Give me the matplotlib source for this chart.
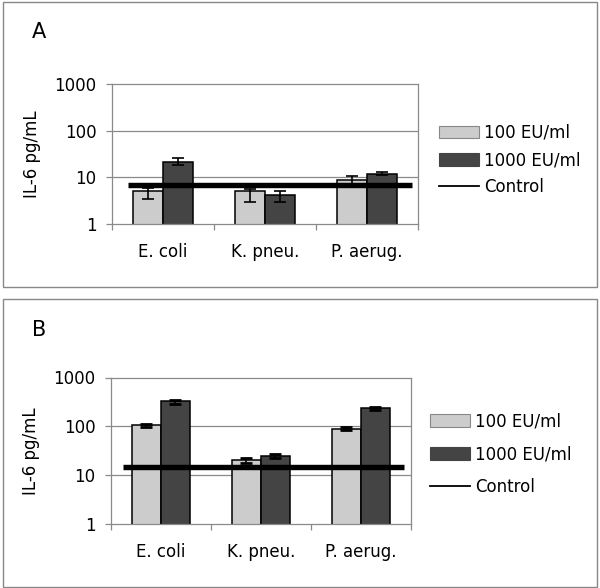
import matplotlib
matplotlib.use("Agg")
import matplotlib.pyplot as plt
from matplotlib.lines import Line2D
from matplotlib.patches import Rectangle, Patch
import numpy as np

categories = ["E. coli", "K. pneu.", "P. aerug."]
series_names = ["100 EU/ml", "1000 EU/ml", "Control"]
ytick_vals = [1, 10, 100, 1000]
ytick_labels = ["1", "10", "100", "1000"]

# Panel A
a_low = [5.1, 5.1, 8.8]
a_low_lo = [3.5, 3.0, 7.0]
a_low_hi = [5.9, 5.6, 10.9]
a_high = [21.8, 4.2, 11.8]
a_high_lo = [18.6, 3.0, 11.3]
a_high_hi = [26.3, 5.1, 12.8]
a_control = 7.0

# Panel B
b_low = [106, 20.1, 89]
b_low_lo = [99, 17.9, 83]
b_low_hi = [114, 22.1, 96]
b_high = [323, 24.6, 239]
b_high_lo = [288, 22.3, 217]
b_high_hi = [349, 26.6, 254]
b_control = 14.9

LIGHT = "#cccccc"
DARK = "#444444"
GRID = "#8a8a8a"
FS = 12

plt.rcParams["font.family"] = ["DejaVu Sans"]

fig = plt.figure(figsize=(6.0, 5.88), dpi=100)

# panel frames
fig.patches.append(Rectangle((3/600, 1-287/588), 594/600, 285/588, transform=fig.transFigure,
                             fill=False, edgecolor="#888888", lw=1.0))
fig.patches.append(Rectangle((3/600, 1-587/588), 594/600, 288/588, transform=fig.transFigure,
                             fill=False, edgecolor="#888888", lw=1.0))


def panel(rect, low, low_lo, low_hi, high, high_lo, high_hi, ctrl, cx, letter, letter_xy,
          leg_xy, labelspacing, capthick, ylab_x):
    ax = fig.add_axes(rect)
    x = np.arange(len(categories))
    w = 0.29
    ax.set_yscale("log")
    ax.set_ylim(1, 1000)
    ax.set_xlim(-0.5, 2.5)
    for v in [10, 100]:
        ax.axhline(v, color=GRID, lw=0.9, zorder=0)
    ax.bar(x - w/2, low, w, color=LIGHT, edgecolor="black", lw=1.1, zorder=2)
    ax.bar(x + w/2, high, w, color=DARK, edgecolor="black", lw=1.1, zorder=2)
    lo = np.array(low); hi_err = np.array(low_hi) - lo; lo_err = lo - np.array(low_lo)
    ax.errorbar(x - w/2, lo, yerr=[lo_err, hi_err], fmt="none", ecolor="black",
                elinewidth=1.2, capsize=4.0, capthick=capthick, zorder=3)
    hv = np.array(high); hi_err = np.array(high_hi) - hv; lo_err = hv - np.array(high_lo)
    ax.errorbar(x + w/2, hv, yerr=[lo_err, hi_err], fmt="none", ecolor="black",
                elinewidth=1.2, capsize=4.0, capthick=capthick, zorder=3)
    ax.axhline(ctrl, xmin=cx[0], xmax=cx[1], color="black", lw=3.9, zorder=4,
               solid_capstyle="butt")
    for s in ax.spines.values():
        s.set_color(GRID)
        s.set_linewidth(0.9)
    ax.set_yticks(ytick_vals)
    ax.set_yticklabels(ytick_labels, fontsize=FS)
    ax.yaxis.set_minor_locator(matplotlib.ticker.NullLocator())
    ax.tick_params(axis="y", which="major", length=4, color=GRID, width=0.9, pad=7)
    ax.set_xticks([-0.5, 0.5, 1.5, 2.5])
    ax.set_xticklabels([])
    ax.tick_params(axis="x", which="major", length=4, color=GRID, width=0.9)
    ax.set_xticks(x, minor=True)
    ax.set_xticklabels(categories, minor=True, fontsize=FS)
    ax.tick_params(axis="x", which="minor", length=0, pad=14)
    ax.set_ylabel("IL-6 pg/mL", fontsize=FS)
    ax.yaxis.set_label_coords(ylab_x, 0.5)
    fig.text(letter_xy[0], letter_xy[1], letter, fontsize=15, ha="left", va="center")
    handles = [Patch(facecolor=LIGHT, edgecolor="#888888", lw=0.8),
               Patch(facecolor=DARK, edgecolor=DARK, lw=0.8),
               Line2D([0], [0], color="black", lw=1.3)]
    fig.legend(handles, series_names, loc="center left", bbox_to_anchor=leg_xy,
               frameon=False, fontsize=FS, handlelength=2.4, handleheight=0.8,
               handletextpad=0.3, borderpad=0, borderaxespad=0, labelspacing=labelspacing)
    return ax


panel([112/600, 1-224/588, 306/600, 140/588], a_low, a_low_lo, a_low_hi,
      a_high, a_high_lo, a_high_hi, a_control, (0.053, 0.979), "A",
      (32/600, 1-32/588), (439/600, 1-160/588), 0.55, 1.2, -0.232)
panel([110.7/600, 1-524/588, 300/600, 146.5/588], b_low, b_low_lo, b_low_hi,
      b_high, b_high_lo, b_high_hi, b_control, (0.04, 0.977), "B",
      (32/600, 1-330/588), (430/600, 1-454.5/588), 0.9, 2.0, -0.236)

fig.savefig("out.png", dpi=100)
